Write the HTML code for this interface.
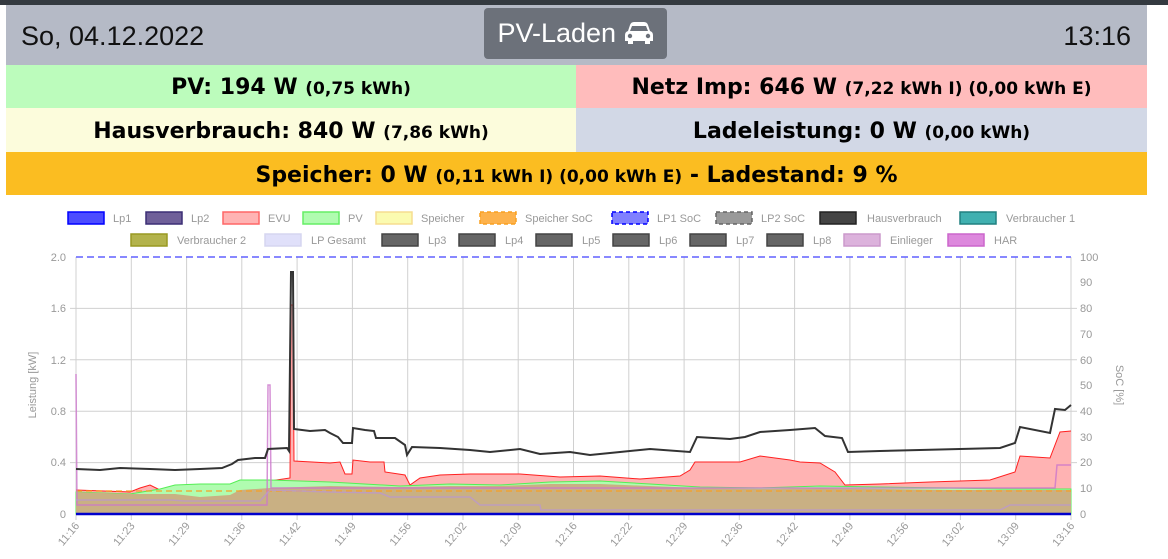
<!DOCTYPE html>
<html><head><meta charset="utf-8"><style>
body{margin:0;width:1168px;height:559px;background:#fff;font-family:"Liberation Sans","DejaVu Sans",sans-serif;overflow:hidden;position:relative}
.top{position:absolute;left:0;top:0;width:1168px;height:5px;background:#343a40}
.hdr{position:absolute;left:6px;top:5px;width:1141px;height:60px;background:#b5bac6}
.row{position:absolute;font-family:"DejaVu Sans",sans-serif;font-weight:bold;font-size:22px;text-align:center;color:#000}
.row small{font-size:17px}
</style></head><body>
<div class="top"></div>
<div class="hdr">
<div style="position:absolute;left:15px;top:16px;font-size:27px;color:#111">So, 04.12.2022</div>
<div style="position:absolute;left:478px;top:3px;width:183px;height:51px;background:#6c717a;border-radius:4px;color:#fff;font-size:27px;line-height:51px;text-align:center">PV-Laden <svg width="30" height="24" viewBox="0 0 30 24" style="vertical-align:-3px"><path d="M6,4 Q7,1 10,1 L20,1 Q23,1 24,4 L26,10 Q29,11 29,14 L29,20 L26,20 L26,23 L21,23 L21,20 L9,20 L9,23 L4,23 L4,20 L1,20 L1,14 Q1,11 4,10Z" fill="#fff"/><path d="M8,5 L22,5 L24,10 L6,10Z" fill="#6c717a"/><circle cx="6" cy="15" r="2.2" fill="#6c717a"/><circle cx="24" cy="15" r="2.2" fill="#6c717a"/></svg></div>
<div style="position:absolute;right:16px;top:16px;font-size:27px;color:#111">13:16</div>
</div>
<div class="row" style="left:6px;top:65px;width:570px;height:43px;line-height:46px;background:#bcfcbc">PV: 194 W <small>(0,75 kWh)</small></div>
<div class="row" style="left:576px;top:65px;width:571px;height:43px;line-height:46px;background:#ffbcbc">Netz Imp: 646 W <small>(7,22 kWh I) (0,00 kWh E)</small></div>
<div class="row" style="left:6px;top:108px;width:570px;height:44px;line-height:48px;background:#fcfcdc">Hausverbrauch: 840 W <small>(7,86 kWh)</small></div>
<div class="row" style="left:576px;top:108px;width:571px;height:44px;line-height:48px;background:#d2d8e6">Ladeleistung: 0 W <small>(0,00 kWh)</small></div>
<div class="row" style="left:6px;top:152px;width:1141px;height:43px;line-height:48px;background:#fbbd21">Speicher: 0 W <small>(0,11 kWh I) (0,00 kWh E)</small> - Ladestand: 9 %</div>
<svg style="position:absolute;left:0;top:0" width="1168" height="559" font-family="Liberation Sans,sans-serif" font-size="11" fill="#999">
<g stroke-width="1.5">
<rect x="68" y="212" width="36" height="12" fill="#4c4cff" stroke="#0000ff"/><text x="113" y="222">Lp1</text>
<rect x="146" y="212" width="36" height="12" fill="#6f5f99" stroke="#3b2e75"/><text x="191" y="222">Lp2</text>
<rect x="223" y="212" width="36" height="12" fill="#ffb3b3" stroke="#ff6666"/><text x="268" y="222">EVU</text>
<rect x="303" y="212" width="36" height="12" fill="#b0fcb0" stroke="#66ee66"/><text x="348" y="222">PV</text>
<rect x="376" y="212" width="36" height="12" fill="#fbfbb0" stroke="#f6dd90"/><text x="421" y="222">Speicher</text>
<rect x="480" y="212" width="36" height="12" fill="#fdb24c" stroke="#f9a020" stroke-dasharray="4,3"/><text x="525" y="222">Speicher SoC</text>
<rect x="612" y="212" width="36" height="12" fill="#8080ff" stroke="#0000ff" stroke-dasharray="4,3"/><text x="657" y="222">LP1 SoC</text>
<rect x="716" y="212" width="36" height="12" fill="#999" stroke="#666" stroke-dasharray="4,3"/><text x="761" y="222">LP2 SoC</text>
<rect x="820" y="212" width="36" height="12" fill="#444" stroke="#222"/><text x="867" y="222">Hausverbrauch</text>
<rect x="960" y="212" width="36" height="12" fill="#40b0b0" stroke="#208080"/><text x="1006" y="222">Verbraucher 1</text>
<rect x="131" y="234" width="36" height="12" fill="#b3b34c" stroke="#999922"/><text x="177" y="244">Verbraucher 2</text>
<rect x="265" y="234" width="36" height="12" fill="#e0e0fa" stroke="#d6d6f0"/><text x="311" y="244">LP Gesamt</text>
<rect x="382" y="234" width="36" height="12" fill="#666" stroke="#444"/><text x="428" y="244">Lp3</text>
<rect x="459" y="234" width="36" height="12" fill="#666" stroke="#444"/><text x="505" y="244">Lp4</text>
<rect x="536" y="234" width="36" height="12" fill="#666" stroke="#444"/><text x="582" y="244">Lp5</text>
<rect x="613" y="234" width="36" height="12" fill="#666" stroke="#444"/><text x="659" y="244">Lp6</text>
<rect x="690" y="234" width="36" height="12" fill="#666" stroke="#444"/><text x="736" y="244">Lp7</text>
<rect x="767" y="234" width="36" height="12" fill="#666" stroke="#444"/><text x="813" y="244">Lp8</text>
<rect x="844" y="234" width="36" height="12" fill="#dcb2dc" stroke="#cc99cc"/><text x="890" y="244">Einlieger</text>
<rect x="948" y="234" width="36" height="12" fill="#dd88dd" stroke="#cc66cc"/><text x="994" y="244">HAR</text>
</g>
<g stroke="#d0d0d0" stroke-width="1">
<line x1="70" y1="308.4" x2="1077" y2="308.4"/><line x1="70" y1="359.8" x2="1077" y2="359.8"/><line x1="70" y1="411.2" x2="1077" y2="411.2"/><line x1="70" y1="462.6" x2="1077" y2="462.6"/>
<line x1="76" y1="257" x2="76" y2="520"/><line x1="131.3" y1="257" x2="131.3" y2="520"/><line x1="186.6" y1="257" x2="186.6" y2="520"/><line x1="241.8" y1="257" x2="241.8" y2="520"/><line x1="297.1" y1="257" x2="297.1" y2="520"/><line x1="352.4" y1="257" x2="352.4" y2="520"/><line x1="407.7" y1="257" x2="407.7" y2="520"/><line x1="463" y1="257" x2="463" y2="520"/><line x1="518.2" y1="257" x2="518.2" y2="520"/><line x1="573.5" y1="257" x2="573.5" y2="520"/><line x1="628.8" y1="257" x2="628.8" y2="520"/><line x1="684.1" y1="257" x2="684.1" y2="520"/><line x1="739.3" y1="257" x2="739.3" y2="520"/><line x1="794.6" y1="257" x2="794.6" y2="520"/><line x1="849.9" y1="257" x2="849.9" y2="520"/><line x1="905.2" y1="257" x2="905.2" y2="520"/><line x1="960.4" y1="257" x2="960.4" y2="520"/><line x1="1015.7" y1="257" x2="1015.7" y2="520"/><line x1="1071" y1="257" x2="1071" y2="520"/>
</g>
<g text-anchor="end" font-size="11"><text x="66" y="261">2.0</text><text x="66" y="312">1.6</text><text x="66" y="364">1.2</text><text x="66" y="415">0.8</text><text x="66" y="466">0.4</text><text x="66" y="518">0</text></g>
<g font-size="11"><text x="1080" y="261">100</text><text x="1080" y="286">90</text><text x="1080" y="312">80</text><text x="1080" y="338">70</text><text x="1080" y="364">60</text><text x="1080" y="389">50</text><text x="1080" y="415">40</text><text x="1080" y="441">30</text><text x="1080" y="466">20</text><text x="1080" y="492">10</text><text x="1080" y="518">0</text></g>
<text transform="translate(36,385) rotate(-90)" text-anchor="middle" font-size="11">Leistung [kW]</text>
<text transform="translate(1116,385) rotate(90)" text-anchor="middle" font-size="11">SoC [%]</text>
<g font-size="11" text-anchor="end">
<text transform="translate(80,526) rotate(-50)">11:16</text><text transform="translate(135.3,526) rotate(-50)">11:23</text><text transform="translate(190.6,526) rotate(-50)">11:29</text><text transform="translate(245.8,526) rotate(-50)">11:36</text><text transform="translate(301.1,526) rotate(-50)">11:42</text><text transform="translate(356.4,526) rotate(-50)">11:49</text><text transform="translate(411.7,526) rotate(-50)">11:56</text><text transform="translate(467,526) rotate(-50)">12:02</text><text transform="translate(522.2,526) rotate(-50)">12:09</text><text transform="translate(577.5,526) rotate(-50)">12:16</text><text transform="translate(632.8,526) rotate(-50)">12:22</text><text transform="translate(688.1,526) rotate(-50)">12:29</text><text transform="translate(743.3,526) rotate(-50)">12:36</text><text transform="translate(798.6,526) rotate(-50)">12:42</text><text transform="translate(853.9,526) rotate(-50)">12:49</text><text transform="translate(909.2,526) rotate(-50)">12:56</text><text transform="translate(964.4,526) rotate(-50)">13:02</text><text transform="translate(1019.7,526) rotate(-50)">13:09</text><text transform="translate(1075,526) rotate(-50)">13:16</text>
</g>
<path d="M76,490 L130,492 L140,488 L150,485 L160,490 L175,495 L200,498 L220,496 L230,489 L245,493 L255,490 L267,489 L270,481 L290,478 L291,305 L293,305 L294,461 L330,463 L340,462 L345,474 L352,474 L353,460 L370,462 L384,462 L385,472 L405,475 L410,485 L420,478 L440,475 L470,474 L520,474 L560,477 L600,476 L640,479 L680,476 L690,470 L695,462 L740,462 L760,456 L790,460 L800,462 L820,463 L835,472 L845,485 L880,484 L930,482 L990,480 L1015,472 L1020,456 L1050,458 L1060,432 L1071,431 L1071,514 L76,514Z" fill="#ffb3b3" stroke="none"/>
<path d="M76,490 L130,492 L140,488 L150,485 L160,490 L175,495 L200,498 L220,496 L230,489 L245,493 L255,490 L267,489 L270,481 L290,478 L291,305 L293,305 L294,461 L330,463 L340,462 L345,474 L352,474 L353,460 L370,462 L384,462 L385,472 L405,475 L410,485 L420,478 L440,475 L470,474 L520,474 L560,477 L600,476 L640,479 L680,476 L690,470 L695,462 L740,462 L760,456 L790,460 L800,462 L820,463 L835,472 L845,485 L880,484 L930,482 L990,480 L1015,472 L1020,456 L1050,458 L1060,432 L1071,431" fill="none" stroke="#ff2020" stroke-width="1"/>
<path d="M76,492 L130,494 L160,489 L175,485 L200,484 L230,484 L240,480 L270,480 L330,482 L400,486 L450,484 L500,485 L550,482 L600,481 L650,484 L700,487 L760,488 L820,486 L880,487 L950,488 L1000,489 L1071,489 L1071,514 L76,514Z" fill="#b0fcb0" stroke="#55ee55" stroke-width="1"/>
<path d="M76,492 L130,494 L160,494 L175,494 L200,497 L230,495 L240,490 L270,488 L330,486 L400,487 L450,486 L500,486 L550,484 L600,484 L650,486 L700,488 L760,489 L820,488 L880,489 L950,490 L1000,490 L1071,490 L1071,514 L76,514Z" fill="#c9b083" stroke="none"/>
<line x1="76" y1="491" x2="1071" y2="491" stroke="#f9a020" stroke-width="1.5" stroke-dasharray="6,4" opacity="0.8"/>
<line x1="76" y1="257" x2="1071" y2="257" stroke="#6060ff" stroke-width="1.5" stroke-dasharray="7,4"/>
<path d="M76,374 L77,505 L267,505 L268,385 L270,385 L271,488 L1055,488 L1057,465 L1071,465" fill="none" stroke="#cc77cc" stroke-width="1.5" opacity="0.8"/>
<path d="M76,500 L170,500 L185,501 L260,501 L270,490 L330,492 L380,493 L390,497 L470,497 L480,505 L540,505 L541,510 L1000,510 L1010,505 L1071,505" fill="none" stroke="#bb99cc" stroke-width="1.5" opacity="0.8"/>
<path d="M76,469 L100,470 L120,468 L150,469 L175,470 L200,469 L222,468 L232,464 L238,460 L255,458 L265,458 L268,449 L287,448 L289,451 L291,272 L293,272 L294,429 L310,431 L325,430 L330,433 L338,437 L343,443 L352,443 L353,428 L365,430 L374,431 L376,438 L395,438 L405,445 L407,455 L412,447 L440,448 L470,450 L490,452 L520,449 L540,454 L570,452 L590,455 L620,452 L650,449 L690,452 L697,437 L730,439 L745,437 L760,432 L790,430 L815,428 L825,436 L842,438 L848,452 L880,451 L920,450 L960,449 L1000,448 L1015,443 L1020,427 L1050,433 L1055,409 L1065,410 L1071,405" fill="none" stroke="#333" stroke-width="2"/>
<line x1="76" y1="514" x2="1071" y2="514" stroke="#0000cc" stroke-width="2.5"/>
</svg>
</body></html>
